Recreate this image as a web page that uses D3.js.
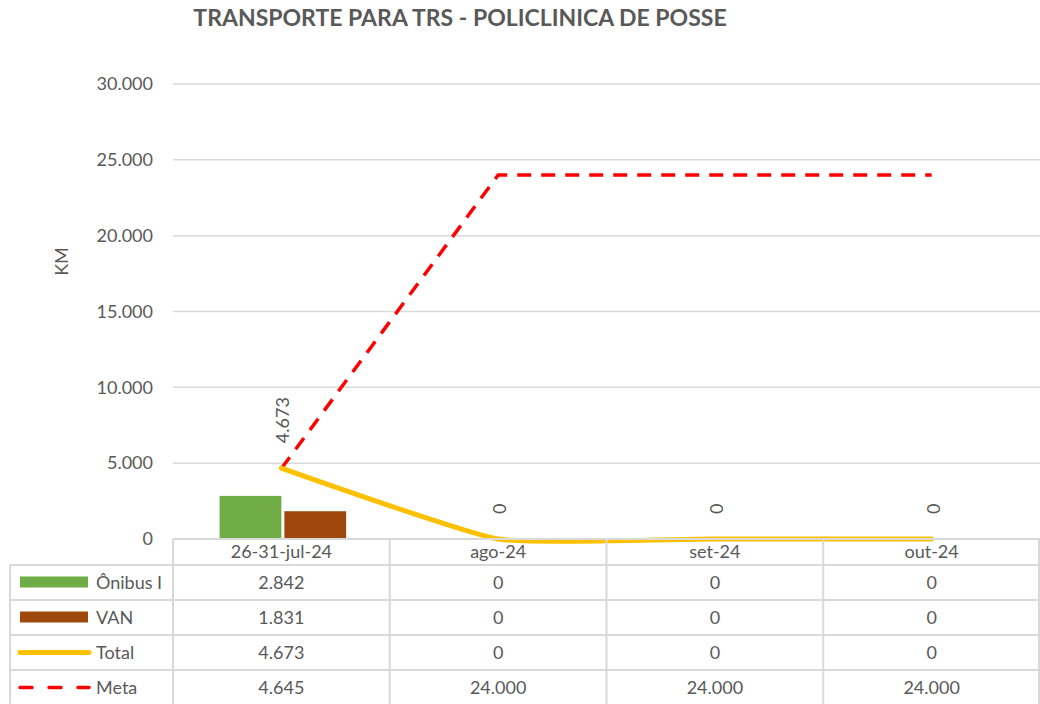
<!DOCTYPE html>
<html>
<head>
<meta charset="utf-8">
<script src="https://cdn.jsdelivr.net/npm/d3@7"></script>
<style>
  body { margin: 0; background: #fff; }
  svg { font-family: Lato, "Open Sans", sans-serif; }
</style>
</head>
<body>
<div id="chart"></div>
<script>
const categories = ['26-31-jul-24', 'ago-24', 'set-24', 'out-24'];
const onibus = [2842, 0, 0, 0];
const van = [1831, 0, 0, 0];
const total = [4673, 0, 0, 0];
const meta = [4645, 24000, 24000, 24000];
const yTicks = [0, 5000, 10000, 15000, 20000, 25000, 30000];

const width = 1040;
const height = 704;
const left = 173;
const right = 1040;
const plotTop = 84;
const plotBottom = 539;
const rowH = 35;
const txt = '#595959';
const grid = '#d9d9d9';
const fs = 18;

// números no formato pt-BR (ponto como separador de milhar)
const fmt = v => d3.format(',')(v).replace(/,/g, '.');

const svg = d3.select('#chart').append('svg')
  .attr('width', width)
  .attr('height', height);

const x = d3.scaleBand().domain(categories).range([left, right]);
const y = d3.scaleLinear().domain([0, 30000]).range([plotBottom, plotTop]);
const cx = d => x(d) + x.bandwidth() / 2;

svg.append('text')
  .attr('x', 460)
  .attr('y', 26)
  .attr('text-anchor', 'middle')
  .attr('font-size', 23)
  .attr('font-weight', 'bold')
  .attr('fill', txt)
  .text('TRANSPORTE PARA TRS - POLICLINICA DE POSSE');

// gridlines
svg.append('g')
  .selectAll('line')
  .data(yTicks.slice(1))
  .join('line')
  .attr('x1', left)
  .attr('x2', right)
  .attr('y1', d => y(d))
  .attr('y2', d => y(d))
  .attr('stroke', grid)
  .attr('stroke-width', 1.5);

svg.append('g')
  .selectAll('text')
  .data(yTicks)
  .join('text')
  .attr('x', 153)
  .attr('y', d => y(d))
  .attr('dy', '0.35em')
  .attr('text-anchor', 'end')
  .attr('font-size', fs)
  .attr('fill', txt)
  .text(fmt);

svg.append('text')
  .attr('transform', `translate(68,${(plotTop + plotBottom) / 2 - 50}) rotate(-90)`)
  .attr('text-anchor', 'middle')
  .attr('font-size', fs)
  .attr('fill', txt)
  .text('KM');

// barras
const bw = x.bandwidth() * 0.285;
const gap = 3;
const bars = [
  { name: 'Ônibus I', values: onibus, color: '#70ad47', off: -bw },
  { name: 'VAN', values: van, color: '#9e480e', off: gap }
];
bars.forEach(s => {
  svg.append('g')
    .selectAll('rect')
    .data(categories.map((c, i) => ({ c, v: s.values[i] })))
    .join('rect')
    .attr('x', d => cx(d.c) + s.off)
    .attr('y', d => y(d.v))
    .attr('width', bw)
    .attr('height', d => y(0) - y(d.v))
    .attr('fill', s.color);
});

// Meta
svg.append('path')
  .datum(categories.map((c, i) => [cx(c), y(meta[i])]))
  .attr('fill', 'none')
  .attr('stroke', '#ff0000')
  .attr('stroke-width', 3.5)
  .attr('stroke-dasharray', '14,10')
  .attr('d', d3.line());

// Total (linha suavizada)
svg.append('path')
  .datum(categories.map((c, i) => [cx(c), y(total[i])]))
  .attr('fill', 'none')
  .attr('stroke', '#ffc000')
  .attr('stroke-width', 5)
  .attr('stroke-linecap', 'round')
  .attr('d', d3.line().curve(d3.curveCardinal.tension(0.55)));

// rótulos de dados
svg.append('g')
  .selectAll('text')
  .data(categories.map((c, i) => ({ c, v: total[i] })))
  .join('text')
  .attr('transform', d => `translate(${cx(d.c) + 8},${y(d.v) - 25}) rotate(-90)`)
  .attr('font-size', fs)
  .attr('fill', txt)
  .text(d => fmt(d.v));

// tabela de dados
const tableLeft = 10;
const rows = [
  { name: 'Ônibus I', values: onibus, key: 'bar', color: '#70ad47' },
  { name: 'VAN', values: van, key: 'bar', color: '#9e480e' },
  { name: 'Total', values: total, key: 'line', color: '#ffc000' },
  { name: 'Meta', values: meta, key: 'dash', color: '#ff0000' }
];
const headerBottom = 565;
const table = svg.append('g').attr('stroke', grid).attr('stroke-width', 2);

table.append('line')
  .attr('x1', left).attr('x2', right)
  .attr('y1', plotBottom).attr('y2', plotBottom);
table.selectAll('.h')
  .data(d3.range(rows.length + 1))
  .join('line')
  .attr('x1', tableLeft).attr('x2', right)
  .attr('y1', i => headerBottom + i * rowH)
  .attr('y2', i => headerBottom + i * rowH);
table.append('line')
  .attr('x1', tableLeft).attr('x2', tableLeft)
  .attr('y1', headerBottom).attr('y2', height);
table.selectAll('.v')
  .data(categories.concat(['end']))
  .join('line')
  .attr('x1', d => d === 'end' ? right - 1 : x(d))
  .attr('x2', d => d === 'end' ? right - 1 : x(d))
  .attr('y1', plotBottom)
  .attr('y2', height);

svg.append('g')
  .selectAll('text')
  .data(categories)
  .join('text')
  .attr('x', cx)
  .attr('y', 552)
  .attr('dy', '0.35em')
  .attr('text-anchor', 'middle')
  .attr('font-size', fs)
  .attr('fill', txt)
  .text(d => d);

rows.forEach((r, ri) => {
  const yc = headerBottom + ri * rowH + rowH / 2;
  const g = svg.append('g');
  if (r.key === 'bar') {
    g.append('rect').attr('x', 20).attr('y', yc - 6).attr('width', 68).attr('height', 11).attr('fill', r.color);
  } else {
    g.append('line')
      .attr('x1', 20).attr('x2', 89)
      .attr('y1', yc).attr('y2', yc)
      .attr('stroke', r.color)
      .attr('stroke-width', r.key === 'line' ? 5 : 3.5)
      .attr('stroke-linecap', 'round')
      .attr('stroke-dasharray', r.key === 'dash' ? '12,17' : null);
  }
  g.append('text')
    .attr('x', 96).attr('y', yc).attr('dy', '0.35em')
    .attr('font-size', fs).attr('fill', txt)
    .text(r.name);
  g.selectAll('.val')
    .data(categories.map((c, i) => ({ c, v: r.values[i] })))
    .join('text')
    .attr('x', d => cx(d.c))
    .attr('y', yc).attr('dy', '0.35em')
    .attr('text-anchor', 'middle')
    .attr('font-size', fs).attr('fill', txt)
    .text(d => fmt(d.v));
});
</script>
</body>
</html>
